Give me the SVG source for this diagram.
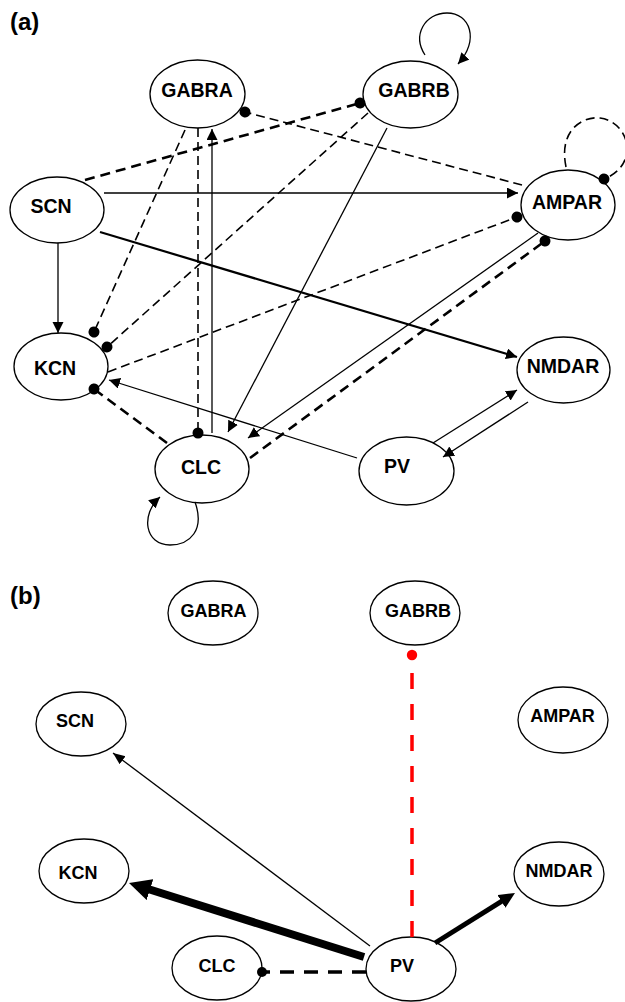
<svg xmlns="http://www.w3.org/2000/svg" width="625" height="1002" viewBox="0 0 625 1002">
<style>
.nd{fill:#fff;stroke:#000;stroke-width:1.3}
.t{font-family:"Liberation Sans",Arial,sans-serif;font-weight:bold;text-anchor:middle;fill:#000}
.ta{font-size:19.5px}
.tb{font-size:18px}
.pl{font-family:"Liberation Sans",Arial,sans-serif;font-weight:bold;font-size:24px;fill:#000}
.s{stroke:#000;stroke-width:1.3;fill:none}
.s2{stroke:#000;stroke-width:2.2;fill:none}
.d{stroke:#000;stroke-width:1.6;stroke-dasharray:9 5;fill:none}
.dt{stroke:#000;stroke-width:2.6;stroke-dasharray:10 6;fill:none}
.red{stroke:#f00;stroke-width:3.5;stroke-dasharray:16 15;fill:none}
.bd{stroke:#000;stroke-width:3.5;stroke-dasharray:14 10;fill:none}
</style>
<defs>
<marker id="arr" markerUnits="userSpaceOnUse" markerWidth="12" markerHeight="12" refX="11" refY="5.5" orient="auto" viewBox="0 0 12 12"><path d="M0,0 L11,5.5 L0,11 z" fill="#000"/></marker>
<marker id="dot" markerUnits="userSpaceOnUse" markerWidth="12" markerHeight="12" refX="6" refY="6" orient="auto" viewBox="0 0 12 12"><circle cx="6" cy="6" r="5.5" fill="#000"/></marker>
<marker id="rdot" markerUnits="userSpaceOnUse" markerWidth="12" markerHeight="12" refX="6" refY="6" orient="auto" viewBox="0 0 12 12"><circle cx="6" cy="6" r="5.2" fill="#f00"/></marker>
<marker id="bdot" markerUnits="userSpaceOnUse" markerWidth="12" markerHeight="12" refX="6" refY="6" orient="auto" viewBox="0 0 12 12"><circle cx="6" cy="6" r="5" fill="#000"/></marker>
<marker id="big" markerUnits="userSpaceOnUse" markerWidth="24" markerHeight="22" refX="2" refY="11" orient="auto" viewBox="0 0 24 22"><path d="M0,0 L22,11 L0,22 z" fill="#000"/></marker>
<marker id="mid" markerUnits="userSpaceOnUse" markerWidth="18" markerHeight="16" refX="2" refY="7.5" orient="auto" viewBox="0 0 18 16"><path d="M0,0 L16,7.5 L0,15 z" fill="#000"/></marker>
<marker id="sm" markerUnits="userSpaceOnUse" markerWidth="14" markerHeight="12" refX="12" refY="5" orient="auto" viewBox="0 0 14 12"><path d="M0,0 L12,5 L0,10 z" fill="#000"/></marker>
</defs>
<text class="pl" x="10" y="30">(a)</text>
<text class="pl" x="10" y="604">(b)</text>
<g id="a-nodes">
<g id="a-GABRA"><ellipse class="nd" cx="197.5" cy="94" rx="47.5" ry="34"/><text class="t ta" x="197" y="97">GABRA</text></g>
<g id="a-GABRB"><ellipse class="nd" cx="410.5" cy="94.5" rx="47.5" ry="33.5"/><text class="t ta" x="414" y="97">GABRB</text></g>
<g id="a-SCN"><ellipse class="nd" cx="57" cy="210" rx="47" ry="33"/><text class="t ta" x="51" y="213">SCN</text></g>
<g id="a-AMPAR"><ellipse class="nd" cx="568" cy="205" rx="47" ry="35"/><text class="t ta" x="567" y="209">AMPAR</text></g>
<g id="a-KCN"><ellipse class="nd" cx="61" cy="366.5" rx="47" ry="33.5"/><text class="t ta" x="55" y="375">KCN</text></g>
<g id="a-NMDAR"><ellipse class="nd" cx="563.5" cy="370" rx="46.5" ry="33"/><text class="t ta" x="563" y="373">NMDAR</text></g>
<g id="a-CLC"><ellipse class="nd" cx="202" cy="469" rx="47" ry="34"/><text class="t ta" x="201" y="474">CLC</text></g>
<g id="a-PV"><ellipse class="nd" cx="406.5" cy="471" rx="47.5" ry="34"/><text class="t ta" x="397" y="473">PV</text></g>
</g>
<g id="b-nodes">
<g id="b-GABRA"><ellipse class="nd" cx="213" cy="613" rx="45" ry="32"/><text class="t tb" x="213.5" y="617">GABRA</text></g>
<g id="b-GABRB"><ellipse class="nd" cx="415" cy="613" rx="45" ry="32"/><text class="t tb" x="418" y="617">GABRB</text></g>
<g id="b-SCN"><ellipse class="nd" cx="81" cy="724" rx="45" ry="32"/><text class="t tb" x="75" y="727">SCN</text></g>
<g id="b-AMPAR"><ellipse class="nd" cx="563" cy="720" rx="45" ry="33"/><text class="t tb" x="562.5" y="722">AMPAR</text></g>
<g id="b-KCN"><ellipse class="nd" cx="84" cy="871" rx="45" ry="32"/><text class="t tb" x="78" y="879">KCN</text></g>
<g id="b-NMDAR"><ellipse class="nd" cx="559" cy="874" rx="45" ry="32"/><text class="t tb" x="559" y="877">NMDAR</text></g>
<g id="b-CLC"><ellipse class="nd" cx="217" cy="968" rx="45" ry="32"/><text class="t tb" x="217" y="972">CLC</text></g>
<g id="b-PV"><ellipse class="nd" cx="411" cy="969" rx="45" ry="32"/><text class="t tb" x="402" y="972">PV</text></g>
</g>
<g id="connectors">
<path class="s" d="M425,55 C412,35 425,13 447,13 C470,13 480,40 458,64" marker-end="url(#arr)"/>
<path class="d" d="M566,167 C558,128 585,116 600,118 C630,122 640,165 604,179" marker-end="url(#dot)"/>
<path class="s" d="M195,502 C205,530 190,545 170,545 C145,545 140,515 160,497" marker-end="url(#arr)"/>
<line class="s" x1="104" y1="193" x2="518" y2="193" marker-end="url(#arr)"/>
<line class="s" x1="58" y1="243" x2="58" y2="333" marker-end="url(#arr)"/>
<line class="s2" x1="100" y1="232" x2="517" y2="357" marker-end="url(#arr)"/>
<line class="s" x1="212" y1="433" x2="212" y2="129" marker-end="url(#arr)"/>
<line class="d" x1="198" y1="128" x2="198" y2="433" marker-end="url(#dot)"/>
<line class="s" x1="387" y1="128" x2="228" y2="432" marker-end="url(#arr)"/>
<line class="s" x1="538" y1="233" x2="248" y2="438" marker-end="url(#arr)"/>
<line class="dt" x1="250" y1="458" x2="545" y2="241" marker-end="url(#dot)"/>
<line class="s" x1="357" y1="458" x2="109" y2="380" marker-end="url(#arr)"/>
<line class="dt" x1="167" y1="443" x2="94" y2="389" marker-end="url(#dot)"/>
<line class="d" x1="108" y1="372" x2="517" y2="217" marker-end="url(#dot)"/>
<line class="d" x1="185" y1="130" x2="94" y2="332" marker-end="url(#dot)"/>
<line class="d" x1="368" y1="113" x2="107" y2="347" marker-end="url(#dot)"/>
<line class="dt" x1="85" y1="180" x2="360" y2="103" marker-end="url(#dot)"/>
<line class="d" x1="522" y1="185" x2="245" y2="112" marker-end="url(#dot)"/>
<line class="s" x1="433" y1="443" x2="517" y2="390" marker-end="url(#arr)"/>
<line class="s" x1="528" y1="402" x2="443" y2="457" marker-end="url(#arr)"/>
<line class="red" x1="412" y1="937" x2="412" y2="655" marker-end="url(#rdot)"/>
<line class="bd" x1="366" y1="972" x2="262" y2="972" marker-end="url(#bdot)"/>
<line class="s" x1="370" y1="946" x2="113" y2="753" marker-end="url(#sm)"/>
<line stroke="#000" stroke-width="8" x1="364" y1="957" x2="148.1" y2="889" marker-end="url(#big)"/>
<line stroke="#000" stroke-width="5" x1="435" y1="943" x2="503.1" y2="900.4" marker-end="url(#mid)"/>
</g>
</svg>
